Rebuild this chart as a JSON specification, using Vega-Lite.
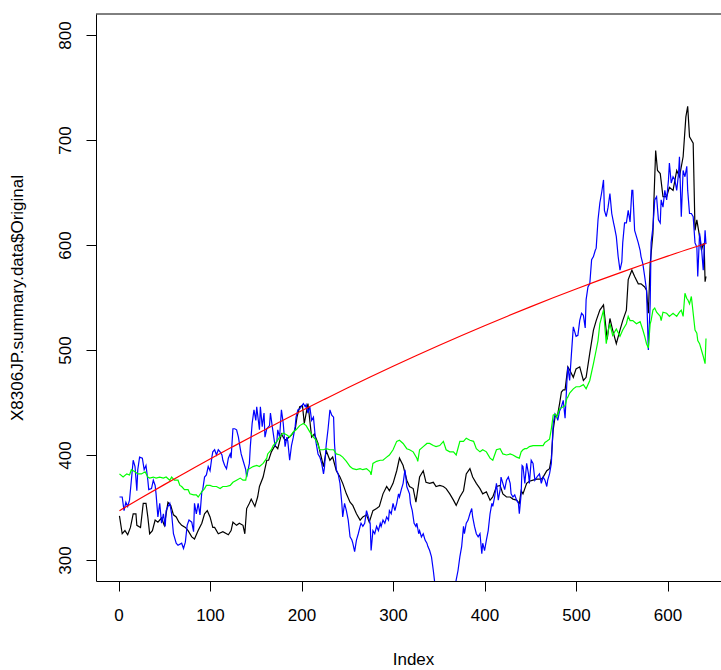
{
"$schema": "https://vega.github.io/schema/vega-lite/v6.json",
"width": 625,
"height": 567,
"autosize": {"type": "none"},
"padding": {"left": 96, "top": 14, "right": 0, "bottom": 89},
"background": "white",
"config": {
  "view": {"stroke": null},
  "axis": {"grid": false, "domainColor": "black", "tickColor": "black", "labelColor": "black", "titleColor": "black",
    "labelFont": "Liberation Sans", "titleFont": "Liberation Sans", "labelFontSize": 17, "titleFontSize": 17,
    "titleFontWeight": "normal", "tickSize": 10, "domainWidth": 1, "tickWidth": 1, "labelFlush": false, "labelOverlap": false}
},
"datasets": {
"orig": [{"i":1,"v":342},{"i":4,"v":325},{"i":7,"v":328},{"i":10,"v":324},{"i":13,"v":331},{"i":16,"v":344},{"i":19,"v":344},{"i":20,"v":333},{"i":24,"v":331},{"i":27,"v":354},{"i":30,"v":354},{"i":32,"v":341},{"i":34,"v":325},{"i":37,"v":328},{"i":40,"v":338},{"i":43,"v":336},{"i":47,"v":340},{"i":50,"v":333},{"i":54,"v":355},{"i":57,"v":352},{"i":60,"v":343},{"i":63,"v":341},{"i":66,"v":336},{"i":69,"v":333},{"i":73,"v":331},{"i":76,"v":328},{"i":80,"v":322},{"i":83,"v":320},{"i":87,"v":328},{"i":91,"v":335},{"i":94,"v":344},{"i":97,"v":347},{"i":100,"v":341},{"i":103,"v":331},{"i":105,"v":331},{"i":109,"v":325},{"i":114,"v":327},{"i":120,"v":324},{"i":123,"v":328},{"i":125,"v":336},{"i":129,"v":333},{"i":132,"v":335},{"i":136,"v":333},{"i":138,"v":325},{"i":140,"v":349},{"i":143,"v":354},{"i":145,"v":358},{"i":149,"v":351},{"i":152,"v":360},{"i":154,"v":370},{"i":158,"v":379},{"i":162,"v":395},{"i":164,"v":395},{"i":167,"v":403},{"i":171,"v":409},{"i":174,"v":406},{"i":178,"v":420},{"i":182,"v":414},{"i":185,"v":416},{"i":189,"v":419},{"i":193,"v":424},{"i":195,"v":436},{"i":198,"v":446},{"i":201,"v":447},{"i":203,"v":430},{"i":207,"v":449},{"i":211,"v":417},{"i":214,"v":420},{"i":218,"v":411},{"i":221,"v":400},{"i":224,"v":389},{"i":227,"v":404},{"i":231,"v":395},{"i":234,"v":398},{"i":238,"v":385},{"i":242,"v":379},{"i":245,"v":373},{"i":249,"v":363},{"i":253,"v":355},{"i":256,"v":352},{"i":260,"v":344},{"i":264,"v":338},{"i":267,"v":341},{"i":271,"v":343},{"i":274,"v":336},{"i":278,"v":347},{"i":282,"v":349},{"i":285,"v":351},{"i":289,"v":363},{"i":293,"v":370},{"i":296,"v":366},{"i":300,"v":373},{"i":304,"v":385},{"i":307,"v":397},{"i":311,"v":390},{"i":315,"v":376},{"i":318,"v":370},{"i":322,"v":368},{"i":325,"v":355},{"i":329,"v":379},{"i":333,"v":385},{"i":336,"v":374},{"i":340,"v":373},{"i":344,"v":374},{"i":347,"v":370},{"i":351,"v":371},{"i":355,"v":370},{"i":358,"v":368},{"i":362,"v":363},{"i":366,"v":357},{"i":369,"v":352},{"i":373,"v":360},{"i":377,"v":366},{"i":380,"v":382},{"i":384,"v":387},{"i":387,"v":379},{"i":391,"v":373},{"i":395,"v":368},{"i":398,"v":363},{"i":402,"v":365},{"i":406,"v":357},{"i":409,"v":360},{"i":413,"v":370},{"i":417,"v":371},{"i":420,"v":363},{"i":424,"v":360},{"i":428,"v":360},{"i":431,"v":358},{"i":435,"v":357},{"i":438,"v":354},{"i":440,"v":366},{"i":442,"v":363},{"i":446,"v":373},{"i":449,"v":375},{"i":453,"v":376},{"i":457,"v":377},{"i":462,"v":377},{"i":464,"v":379},{"i":468,"v":385},{"i":471,"v":387},{"i":473,"v":397},{"i":475,"v":424},{"i":477,"v":436},{"i":480,"v":439},{"i":482,"v":449},{"i":484,"v":460},{"i":486,"v":462},{"i":488,"v":462},{"i":491,"v":484},{"i":493,"v":481},{"i":497,"v":474},{"i":500,"v":482},{"i":504,"v":484},{"i":508,"v":471},{"i":511,"v":474},{"i":515,"v":497},{"i":519,"v":519},{"i":522,"v":528},{"i":526,"v":538},{"i":530,"v":543},{"i":534,"v":510},{"i":537,"v":530},{"i":540,"v":519},{"i":544,"v":506},{"i":548,"v":519},{"i":551,"v":528},{"i":555,"v":538},{"i":557,"v":567},{"i":561,"v":576},{"i":564,"v":570},{"i":568,"v":563},{"i":571,"v":563},{"i":575,"v":560},{"i":577,"v":557},{"i":579,"v":535},{"i":581,"v":582},{"i":584,"v":611},{"i":585,"v":640},{"i":587,"v":690},{"i":589,"v":671},{"i":592,"v":668},{"i":595,"v":646},{"i":599,"v":646},{"i":602,"v":655},{"i":606,"v":652},{"i":610,"v":671},{"i":613,"v":665},{"i":617,"v":684},{"i":620,"v":722},{"i":622,"v":732},{"i":624,"v":703},{"i":628,"v":697},{"i":630,"v":614},{"i":632,"v":624},{"i":635,"v":608},{"i":637,"v":595},{"i":639,"v":601},{"i":640,"v":600},{"i":641,"v":565},{"i":642,"v":570}],
"blue": [{"i":1,"v":360},{"i":4,"v":360},{"i":6,"v":347},{"i":8,"v":355},{"i":10,"v":351},{"i":12,"v":357},{"i":14,"v":376},{"i":16,"v":395},{"i":18,"v":389},{"i":20,"v":366},{"i":21,"v":386},{"i":23,"v":398},{"i":26,"v":397},{"i":28,"v":386},{"i":30,"v":390},{"i":32,"v":376},{"i":33,"v":367},{"i":36,"v":368},{"i":38,"v":376},{"i":40,"v":371},{"i":41,"v":363},{"i":43,"v":341},{"i":45,"v":354},{"i":47,"v":335},{"i":49,"v":344},{"i":51,"v":332},{"i":52,"v":347},{"i":54,"v":351},{"i":56,"v":354},{"i":58,"v":344},{"i":60,"v":325},{"i":63,"v":316},{"i":65,"v":314},{"i":69,"v":316},{"i":71,"v":311},{"i":73,"v":317},{"i":75,"v":333},{"i":77,"v":338},{"i":80,"v":336},{"i":82,"v":327},{"i":83,"v":354},{"i":85,"v":344},{"i":87,"v":354},{"i":89,"v":343},{"i":91,"v":365},{"i":92,"v":367},{"i":94,"v":379},{"i":96,"v":381},{"i":98,"v":389},{"i":100,"v":385},{"i":102,"v":398},{"i":103,"v":403},{"i":105,"v":405},{"i":107,"v":400},{"i":109,"v":405},{"i":111,"v":403},{"i":113,"v":400},{"i":114,"v":395},{"i":116,"v":390},{"i":118,"v":387},{"i":120,"v":397},{"i":122,"v":401},{"i":123,"v":397},{"i":125,"v":425},{"i":127,"v":425},{"i":129,"v":424},{"i":131,"v":417},{"i":133,"v":406},{"i":134,"v":401},{"i":136,"v":395},{"i":139,"v":386},{"i":140,"v":379},{"i":143,"v":392},{"i":144,"v":408},{"i":146,"v":430},{"i":148,"v":443},{"i":150,"v":433},{"i":151,"v":446},{"i":154,"v":424},{"i":155,"v":446},{"i":157,"v":427},{"i":159,"v":440},{"i":160,"v":417},{"i":162,"v":425},{"i":165,"v":428},{"i":166,"v":440},{"i":168,"v":427},{"i":171,"v":409},{"i":173,"v":413},{"i":174,"v":424},{"i":176,"v":417},{"i":178,"v":443},{"i":180,"v":430},{"i":182,"v":408},{"i":184,"v":417},{"i":185,"v":413},{"i":187,"v":395},{"i":189,"v":409},{"i":191,"v":417},{"i":193,"v":427},{"i":194,"v":436},{"i":196,"v":443},{"i":198,"v":444},{"i":202,"v":449},{"i":204,"v":446},{"i":205,"v":448},{"i":207,"v":440},{"i":209,"v":446},{"i":211,"v":433},{"i":213,"v":436},{"i":215,"v":417},{"i":216,"v":411},{"i":218,"v":401},{"i":220,"v":398},{"i":222,"v":392},{"i":224,"v":382},{"i":225,"v":388},{"i":227,"v":410},{"i":229,"v":425},{"i":231,"v":443},{"i":233,"v":438},{"i":235,"v":436},{"i":236,"v":411},{"i":238,"v":386},{"i":240,"v":382},{"i":242,"v":373},{"i":244,"v":354},{"i":245,"v":341},{"i":247,"v":354},{"i":249,"v":347},{"i":251,"v":338},{"i":253,"v":322},{"i":255,"v":319},{"i":256,"v":316},{"i":258,"v":308},{"i":260,"v":319},{"i":262,"v":325},{"i":264,"v":332},{"i":265,"v":335},{"i":267,"v":332},{"i":269,"v":335},{"i":271,"v":347},{"i":273,"v":341},{"i":275,"v":335},{"i":276,"v":309},{"i":278,"v":328},{"i":280,"v":325},{"i":282,"v":332},{"i":284,"v":328},{"i":286,"v":335},{"i":287,"v":332},{"i":289,"v":338},{"i":291,"v":335},{"i":293,"v":341},{"i":295,"v":338},{"i":296,"v":347},{"i":298,"v":344},{"i":300,"v":354},{"i":302,"v":347},{"i":304,"v":354},{"i":306,"v":363},{"i":307,"v":360},{"i":309,"v":367},{"i":311,"v":373},{"i":313,"v":386},{"i":314,"v":379},{"i":315,"v":370},{"i":318,"v":363},{"i":319,"v":354},{"i":321,"v":347},{"i":323,"v":335},{"i":325,"v":332},{"i":326,"v":335},{"i":328,"v":325},{"i":329,"v":328},{"i":331,"v":322},{"i":333,"v":325},{"i":335,"v":319},{"i":337,"v":316},{"i":338,"v":313},{"i":340,"v":309},{"i":342,"v":303},{"i":344,"v":290},{"i":346,"v":275},{"i":348,"v":268},{"i":350,"v":272},{"i":353,"v":265},{"i":356,"v":270},{"i":360,"v":262},{"i":364,"v":268},{"i":367,"v":272},{"i":369,"v":281},{"i":371,"v":290},{"i":373,"v":303},{"i":375,"v":313},{"i":377,"v":332},{"i":378,"v":325},{"i":380,"v":335},{"i":382,"v":338},{"i":384,"v":344},{"i":386,"v":349},{"i":387,"v":341},{"i":389,"v":332},{"i":391,"v":325},{"i":393,"v":322},{"i":395,"v":325},{"i":397,"v":306},{"i":398,"v":316},{"i":400,"v":309},{"i":402,"v":319},{"i":404,"v":328},{"i":406,"v":344},{"i":408,"v":354},{"i":409,"v":351},{"i":411,"v":360},{"i":413,"v":373},{"i":415,"v":357},{"i":417,"v":367},{"i":418,"v":379},{"i":420,"v":373},{"i":422,"v":367},{"i":424,"v":376},{"i":426,"v":379},{"i":428,"v":373},{"i":429,"v":363},{"i":431,"v":360},{"i":433,"v":362},{"i":435,"v":357},{"i":437,"v":354},{"i":438,"v":344},{"i":440,"v":363},{"i":441,"v":390},{"i":442,"v":389},{"i":444,"v":373},{"i":446,"v":392},{"i":448,"v":382},{"i":449,"v":373},{"i":451,"v":395},{"i":453,"v":392},{"i":455,"v":376},{"i":458,"v":380},{"i":460,"v":382},{"i":462,"v":373},{"i":464,"v":379},{"i":466,"v":376},{"i":468,"v":370},{"i":469,"v":376},{"i":471,"v":382},{"i":473,"v":392},{"i":475,"v":430},{"i":477,"v":439},{"i":479,"v":436},{"i":480,"v":433},{"i":482,"v":442},{"i":484,"v":446},{"i":486,"v":452},{"i":488,"v":435},{"i":490,"v":470},{"i":491,"v":484},{"i":493,"v":471},{"i":495,"v":497},{"i":497,"v":522},{"i":499,"v":516},{"i":500,"v":513},{"i":502,"v":514},{"i":504,"v":528},{"i":506,"v":535},{"i":508,"v":533},{"i":510,"v":521},{"i":511,"v":548},{"i":513,"v":560},{"i":515,"v":563},{"i":517,"v":586},{"i":519,"v":589},{"i":521,"v":595},{"i":522,"v":597},{"i":524,"v":624},{"i":526,"v":640},{"i":528,"v":650},{"i":530,"v":662},{"i":531,"v":633},{"i":533,"v":627},{"i":535,"v":636},{"i":537,"v":649},{"i":539,"v":630},{"i":541,"v":621},{"i":542,"v":617},{"i":544,"v":608},{"i":546,"v":589},{"i":548,"v":576},{"i":550,"v":584},{"i":551,"v":602},{"i":553,"v":621},{"i":555,"v":621},{"i":557,"v":633},{"i":559,"v":622},{"i":561,"v":652},{"i":562,"v":652},{"i":564,"v":614},{"i":566,"v":608},{"i":568,"v":602},{"i":570,"v":595},{"i":571,"v":589},{"i":573,"v":582},{"i":575,"v":570},{"i":577,"v":557},{"i":579,"v":500},{"i":581,"v":544},{"i":582,"v":602},{"i":584,"v":617},{"i":586,"v":643},{"i":588,"v":646},{"i":590,"v":624},{"i":592,"v":621},{"i":593,"v":643},{"i":595,"v":636},{"i":597,"v":652},{"i":599,"v":643},{"i":601,"v":662},{"i":602,"v":678},{"i":604,"v":659},{"i":606,"v":665},{"i":608,"v":662},{"i":610,"v":652},{"i":612,"v":668},{"i":613,"v":684},{"i":615,"v":627},{"i":617,"v":671},{"i":619,"v":665},{"i":621,"v":675},{"i":622,"v":652},{"i":624,"v":630},{"i":626,"v":630},{"i":628,"v":627},{"i":630,"v":602},{"i":632,"v":598},{"i":633,"v":570},{"i":635,"v":611},{"i":637,"v":598},{"i":639,"v":576},{"i":641,"v":614},{"i":642,"v":601}],
"green": [{"i":1,"v":382},{"i":5,"v":379},{"i":9,"v":382},{"i":12,"v":381},{"i":14,"v":386},{"i":18,"v":384},{"i":21,"v":382},{"i":25,"v":382},{"i":29,"v":384},{"i":32,"v":379},{"i":34,"v":378},{"i":38,"v":379},{"i":41,"v":378},{"i":45,"v":379},{"i":49,"v":378},{"i":52,"v":379},{"i":56,"v":376},{"i":58,"v":379},{"i":61,"v":376},{"i":65,"v":376},{"i":67,"v":371},{"i":69,"v":370},{"i":72,"v":367},{"i":76,"v":367},{"i":78,"v":363},{"i":82,"v":362},{"i":85,"v":362},{"i":87,"v":360},{"i":91,"v":365},{"i":94,"v":368},{"i":96,"v":371},{"i":100,"v":371},{"i":103,"v":370},{"i":107,"v":370},{"i":111,"v":368},{"i":114,"v":370},{"i":118,"v":370},{"i":122,"v":371},{"i":125,"v":374},{"i":129,"v":376},{"i":133,"v":378},{"i":136,"v":376},{"i":139,"v":376},{"i":141,"v":386},{"i":143,"v":387},{"i":147,"v":389},{"i":151,"v":390},{"i":154,"v":389},{"i":158,"v":392},{"i":162,"v":397},{"i":163,"v":401},{"i":167,"v":405},{"i":169,"v":409},{"i":173,"v":413},{"i":176,"v":417},{"i":180,"v":421},{"i":184,"v":419},{"i":187,"v":417},{"i":191,"v":422},{"i":194,"v":424},{"i":198,"v":428},{"i":202,"v":430},{"i":205,"v":428},{"i":209,"v":422},{"i":213,"v":417},{"i":216,"v":414},{"i":220,"v":405},{"i":224,"v":405},{"i":227,"v":406},{"i":231,"v":405},{"i":235,"v":405},{"i":238,"v":401},{"i":242,"v":400},{"i":245,"v":398},{"i":249,"v":394},{"i":253,"v":389},{"i":256,"v":387},{"i":260,"v":386},{"i":264,"v":387},{"i":267,"v":386},{"i":271,"v":387},{"i":275,"v":384},{"i":276,"v":381},{"i":278,"v":392},{"i":282,"v":394},{"i":286,"v":395},{"i":289,"v":395},{"i":293,"v":398},{"i":296,"v":400},{"i":300,"v":405},{"i":304,"v":413},{"i":307,"v":414},{"i":311,"v":411},{"i":315,"v":406},{"i":318,"v":405},{"i":322,"v":403},{"i":326,"v":397},{"i":327,"v":394},{"i":329,"v":405},{"i":333,"v":408},{"i":337,"v":411},{"i":340,"v":411},{"i":344,"v":409},{"i":347,"v":408},{"i":351,"v":409},{"i":355,"v":413},{"i":358,"v":405},{"i":362,"v":403},{"i":366,"v":403},{"i":369,"v":400},{"i":373,"v":413},{"i":377,"v":413},{"i":380,"v":416},{"i":384,"v":414},{"i":388,"v":413},{"i":391,"v":406},{"i":395,"v":403},{"i":398,"v":405},{"i":402,"v":403},{"i":406,"v":397},{"i":409,"v":395},{"i":413,"v":405},{"i":417,"v":406},{"i":420,"v":401},{"i":424,"v":400},{"i":428,"v":401},{"i":431,"v":400},{"i":435,"v":398},{"i":438,"v":397},{"i":440,"v":403},{"i":442,"v":405},{"i":444,"v":406},{"i":446,"v":406},{"i":449,"v":408},{"i":453,"v":409},{"i":457,"v":409},{"i":460,"v":409},{"i":464,"v":409},{"i":466,"v":412},{"i":468,"v":413},{"i":471,"v":415},{"i":473,"v":425},{"i":475,"v":438},{"i":477,"v":439},{"i":479,"v":436},{"i":482,"v":444},{"i":486,"v":446},{"i":488,"v":447},{"i":490,"v":454},{"i":491,"v":455},{"i":493,"v":459},{"i":497,"v":463},{"i":500,"v":465},{"i":504,"v":465},{"i":508,"v":467},{"i":511,"v":463},{"i":515,"v":471},{"i":519,"v":487},{"i":522,"v":500},{"i":524,"v":509},{"i":526,"v":525},{"i":530,"v":538},{"i":531,"v":527},{"i":533,"v":506},{"i":535,"v":518},{"i":537,"v":525},{"i":540,"v":514},{"i":544,"v":520},{"i":548,"v":513},{"i":551,"v":519},{"i":555,"v":525},{"i":557,"v":532},{"i":559,"v":528},{"i":562,"v":528},{"i":566,"v":525},{"i":570,"v":527},{"i":573,"v":519},{"i":575,"v":513},{"i":577,"v":506},{"i":579,"v":502},{"i":581,"v":525},{"i":582,"v":528},{"i":584,"v":538},{"i":586,"v":540},{"i":588,"v":536},{"i":592,"v":532},{"i":593,"v":528},{"i":595,"v":536},{"i":599,"v":535},{"i":602,"v":532},{"i":606,"v":535},{"i":610,"v":532},{"i":613,"v":536},{"i":615,"v":538},{"i":617,"v":532},{"i":619,"v":554},{"i":621,"v":549},{"i":622,"v":548},{"i":624,"v":544},{"i":626,"v":551},{"i":628,"v":535},{"i":630,"v":519},{"i":632,"v":516},{"i":633,"v":509},{"i":635,"v":506},{"i":637,"v":500},{"i":639,"v":494},{"i":641,"v":487},{"i":642,"v":511}],
"trend": [{"i":1,"v":347},{"i":25,"v":359.3},{"i":50,"v":371.8},{"i":75,"v":384},{"i":100,"v":396.2},{"i":125,"v":408},{"i":150,"v":419.6},{"i":175,"v":431},{"i":200,"v":442.1},{"i":225,"v":453},{"i":250,"v":463.8},{"i":275,"v":474.3},{"i":300,"v":484.5},{"i":325,"v":494.5},{"i":350,"v":504.3},{"i":375,"v":513.8},{"i":400,"v":523.1},{"i":425,"v":532.2},{"i":450,"v":541.1},{"i":475,"v":549.7},{"i":500,"v":558.1},{"i":525,"v":566.3},{"i":550,"v":574.2},{"i":575,"v":581.9},{"i":600,"v":589.4},{"i":625,"v":596.7},{"i":642,"v":601.4}]
},
"layer": [
  {"data": {"name": "orig"},
   "mark": {"type": "line", "color": "#000000", "strokeWidth": 1.2, "clip": true},
   "encoding": {
     "x": {"field": "i", "type": "quantitative", "scale": {"domain": [-24.64, 658.4], "nice": false, "zero": false},
       "axis": {"values": [0,100,200,300,400,500,600], "title": "Index", "labelBaseline": "alphabetic", "labelPadding": 29,
         "titleBaseline": "alphabetic", "titleY": 83, "titleX": 317, "titleAlign": "center"}},
     "y": {"field": "v", "type": "quantitative", "scale": {"domain": [280, 820], "nice": false, "zero": false},
       "axis": {"values": [300,400,500,600,700,800], "title": "X8306JP.summary.data$Original", "labelAngle": -90,
         "labelAlign": "center", "labelBaseline": "alphabetic", "labelPadding": 16,
         "titleBaseline": "alphabetic", "titleX": -73.5, "titleAngle": -90}}
   }},
  {"data": {"name": "blue"},
   "mark": {"type": "line", "color": "#0000FF", "strokeWidth": 1.2, "clip": true},
   "encoding": {
     "x": {"field": "i", "type": "quantitative", "scale": {"domain": [-24.64, 658.4], "nice": false, "zero": false}},
     "y": {"field": "v", "type": "quantitative", "scale": {"domain": [280, 820], "nice": false, "zero": false}}
   }},
  {"data": {"name": "green"},
   "mark": {"type": "line", "color": "#00FF00", "strokeWidth": 1.2, "clip": true},
   "encoding": {
     "x": {"field": "i", "type": "quantitative", "scale": {"domain": [-24.64, 658.4], "nice": false, "zero": false}},
     "y": {"field": "v", "type": "quantitative", "scale": {"domain": [280, 820], "nice": false, "zero": false}}
   }},
  {"data": {"name": "trend"},
   "mark": {"type": "line", "color": "#FF0000", "strokeWidth": 1.2, "clip": true, "interpolate": "monotone"},
   "encoding": {
     "x": {"field": "i", "type": "quantitative", "scale": {"domain": [-24.64, 658.4], "nice": false, "zero": false}},
     "y": {"field": "v", "type": "quantitative", "scale": {"domain": [280, 820], "nice": false, "zero": false}}
   }},
  {"data": {"values": [{"top": 820}]},
   "mark": {"type": "rule", "color": "#000000", "strokeWidth": 1},
   "encoding": {"y": {"field": "top", "type": "quantitative", "scale": {"domain": [280, 820], "nice": false, "zero": false}}}}
]
}
